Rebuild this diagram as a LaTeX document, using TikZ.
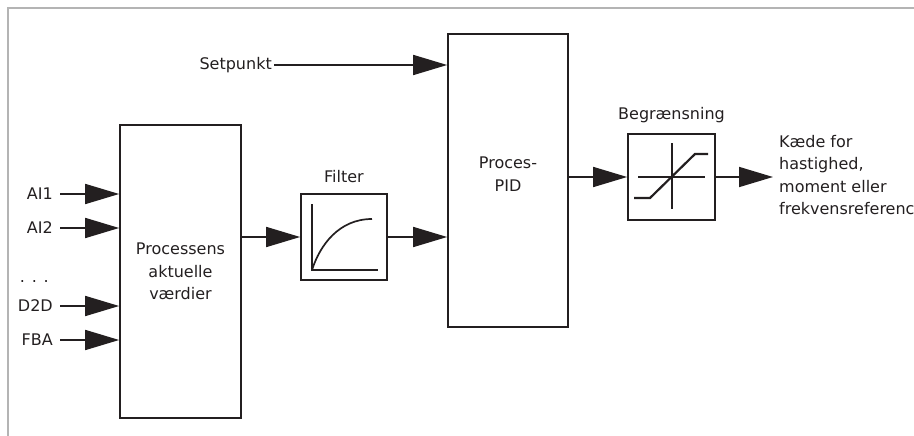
\documentclass[tikz,border=0pt]{standalone}
\usepackage{fontspec}
\setmainfont{DejaVu Sans}
\usetikzlibrary{arrows.meta,positioning,calc}
\definecolor{ink}{HTML}{231F20}
\definecolor{framegray}{HTML}{B4B4B4}
\begin{document}
\begin{tikzpicture}[
      x=1pt, y=-1pt,
      every node/.style={font=\fontsize{16}{22.6}\selectfont, text=ink},
      blk/.style={draw=ink, line width=1.7pt, rectangle, inner sep=0pt, align=center},
      sig/.style={draw=ink, line width=1.7pt, -{Triangle[length=34pt, width=20pt]}},
      inlbl/.style={anchor=east, inner sep=0pt},
      toplbl/.style={inner sep=0pt}
    ]
      \useasboundingbox (0,0) rectangle (914,436);
      \draw[framegray, line width=1.8pt] (8,436) -- (8,8) -- (914,8);

      % blocks
      \node[blk, minimum width=121pt, minimum height=293pt] (proc) at (180.5,271.5)
        {Processens\\aktuelle\\værdier};
      \node[blk, minimum width=86pt, minimum height=86pt] (filt) at (344,237) {};
      \node[blk, minimum width=120pt, minimum height=293pt] (pid) at (508,180.5) {};
      \node[align=center, inner sep=0pt] (pidtxt) at (508,174) {Proces-\\PID};
      \node[blk, minimum width=87pt, minimum height=86pt] (lim) at (671.5,177) {};
      \node[toplbl, above=10pt of filt] (filtlbl) {Filter};
      \node[toplbl, above=10pt of lim] (limlbl) {Begrænsning};

      % inputs
      \node[inlbl] (ai1) at (53,194) {AI1};
      \node[inlbl] (ai2) at (53,228) {AI2};
      \node[inlbl] (dots) at (49,282) {. . .};
      \node[inlbl] (d2d) at (53,306) {D2D};
      \node[inlbl] (fba) at (53,340) {FBA};
      \node[inlbl] (setp) at (272,65) {Setpunkt};
      \node[anchor=west, align=left, inner sep=0pt] (out) at (779,175)
        {Kæde for\\hastighed,\\moment eller\\frekvensreference};

      % connectors
      \foreach \n in {ai1,ai2,d2d,fba}
        \draw[sig] ([xshift=7pt]\n.east) -- (\n.east -| proc.west);
      \draw[sig] ([xshift=2pt]setp.east) -- (setp.east -| pid.west);
      \draw[sig] (filt.west -| proc.east) -- (filt.west);
      \draw[sig] (filt.east) -- (filt.east -| pid.west);
      \draw[sig] (lim.west -| pid.east) -- (lim.west);
      \draw[sig] (lim.east) -- ([xshift=-6pt]lim.east -| out.west);

      % filter curve
      \begin{scope}[shift={(filt.center)}, draw=ink, line width=1.7pt]
        \draw (-32,-33) -- (-32,33) -- (34,33);
        \draw (-32,33) .. controls (-24,8) and (-5,-18) .. (28,-18);
      \end{scope}

      % limiter curve
      \begin{scope}[shift={(lim.center)}, draw=ink]
        \draw[line width=1.7pt] (0.5,-34) -- (0.5,32);
        \draw[line width=1.7pt] (-33.5,0) -- (33.5,0);
        \draw[line width=2.2pt] (-37.5,21) -- (-21.5,21) -- (23.5,-23) -- (36.5,-23);
      \end{scope}
\end{tikzpicture}
\end{document}
